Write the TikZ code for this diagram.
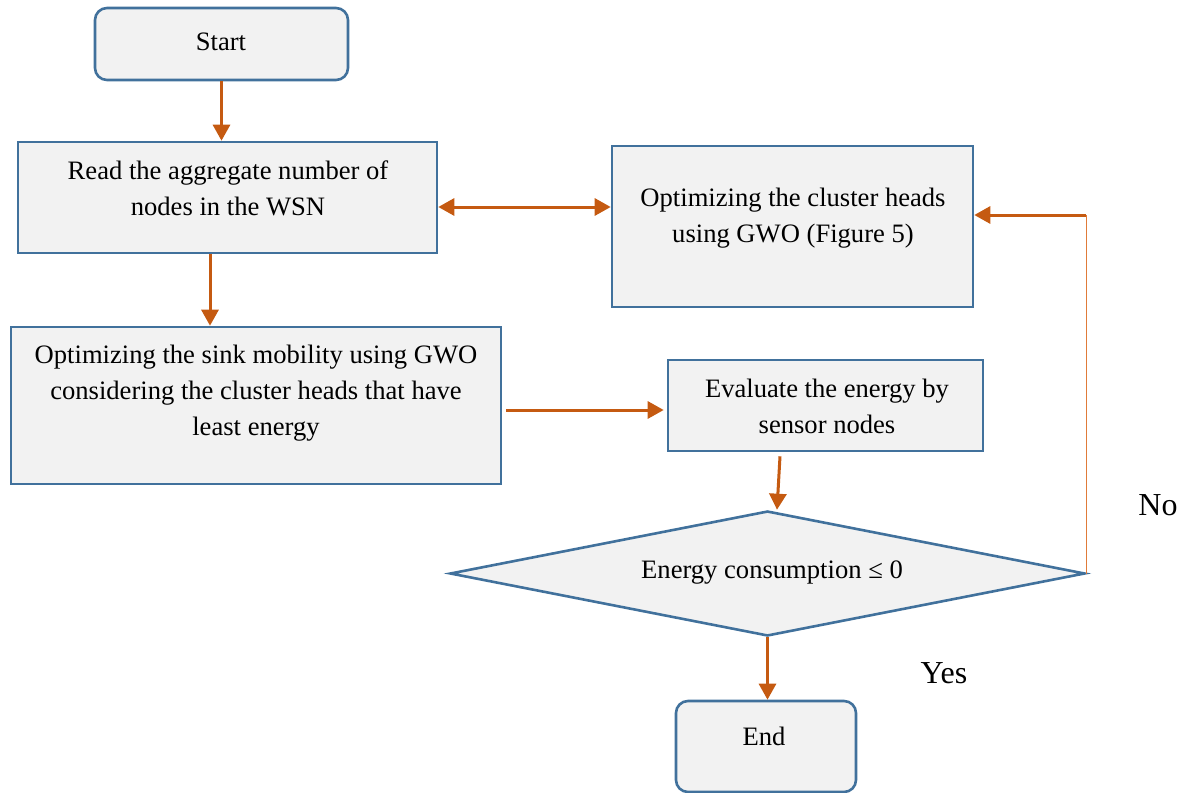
\documentclass[tikz,border=0pt]{standalone}
\usepackage{fontspec}
\setmainfont{Liberation Serif}
\usetikzlibrary{shapes.geometric,arrows.meta,calc}
\definecolor{bblue}{HTML}{41719C}
\definecolor{bfill}{HTML}{F2F2F2}
\definecolor{aorange}{HTML}{C55A11}
\definecolor{lorange}{HTML}{E07B39}
\tikzset{
  boxshape/.style={draw=bblue, fill=bfill, line width=1.3pt, inner sep=0pt},
  roundbox/.style={boxshape, rounded corners=6pt},
  txt/.style={align=center, inner sep=0pt, font=\fontsize{13.3}{18}\selectfont},
  lbl/.style={inner sep=0pt, font=\fontsize{16}{19}\selectfont},
  arr/.style={draw=aorange, line width=1.5pt, -{Triangle[length=8pt,width=8.5pt]}},
  darr/.style={draw=aorange, line width=1.5pt, {Triangle[length=8pt,width=8.5pt]}-{Triangle[length=8pt,width=8.5pt]}},
  thinline/.style={draw=lorange, line width=0.6pt}
}
\begin{document}
\begin{tikzpicture}[x=0.5pt,y=-0.5pt]
\useasboundingbox (0,0) rectangle (1180,793);
% shapes
\node[roundbox, minimum width=126.5pt, minimum height=36pt] (start) at (221.5,44) {};
\node[boxshape, minimum width=209.5pt, minimum height=55.5pt] (box1) at (227.5,197.5) {};
\node[boxshape, minimum width=180.5pt, minimum height=80.5pt] (box2) at (792.5,226.5) {};
\node[boxshape, minimum width=245pt, minimum height=78.5pt] (box3) at (256,405.5) {};
\node[boxshape, minimum width=157.5pt, minimum height=45.5pt] (box4) at (825.5,405.5) {};
\node[diamond, boxshape, minimum width=317.5pt, minimum height=62.5pt] (dia) at (767.5,573.5) {};
\node[roundbox, minimum width=90pt, minimum height=45.5pt] (end) at (766,746.5) {};
% texts
\node[txt] (tstart) at (221,42) {Start};
\node[txt] (t1) at (228,188) {Read the aggregate number of\\nodes in the WSN};
\node[txt] (t2) at (793,218) {Optimizing the cluster heads\\using GWO (Figure 5)};
\node[txt] (t3) at (256,393) {Optimizing the sink mobility using GWO\\considering the cluster heads that have\\least energy};
\node[txt] (t4) at (827,406) {Evaluate the energy by\\sensor nodes};
\node[txt] (tdia) at (772,573) {Energy consumption ≤ 0};
\node[txt] (tend) at (764,736) {End};
\node[lbl] (no) at (1158,505) {No};
\node[lbl] (yes) at (944,673) {Yes};
% connectors
\draw[arr] (start.south) -- (start.south |- box1.north);
\coordinate (a1) at ([yshift=-4.75pt]box1.east);
\draw[darr] (a1) -- (a1 -| box2.west);
\coordinate (a2) at ([xshift=-8.75pt]box1.south);
\draw[arr] (a2) -- (a2 |- box3.north);
\coordinate (a3) at ([yshift=-2.25pt,xshift=2pt]box3.east);
\draw[arr] (a3) -- ([xshift=-1.5pt]a3 -| box4.west);
\coordinate (a4) at ([xshift=-22.75pt,yshift=-2pt]box4.south);
\coordinate (a4e) at ([xshift=4.75pt]dia.north);
\draw[arr] (a4) -- (a4e);
\draw[arr] (dia.south) -- (dia.south |- end.north);
\coordinate (a5) at ([yshift=5.75pt]box2.east);
\draw[thinline] (dia.east) -- (dia.east |- a5);
\draw[arr] (a5 -| dia.east) -- (a5);
\end{tikzpicture}
\end{document}
